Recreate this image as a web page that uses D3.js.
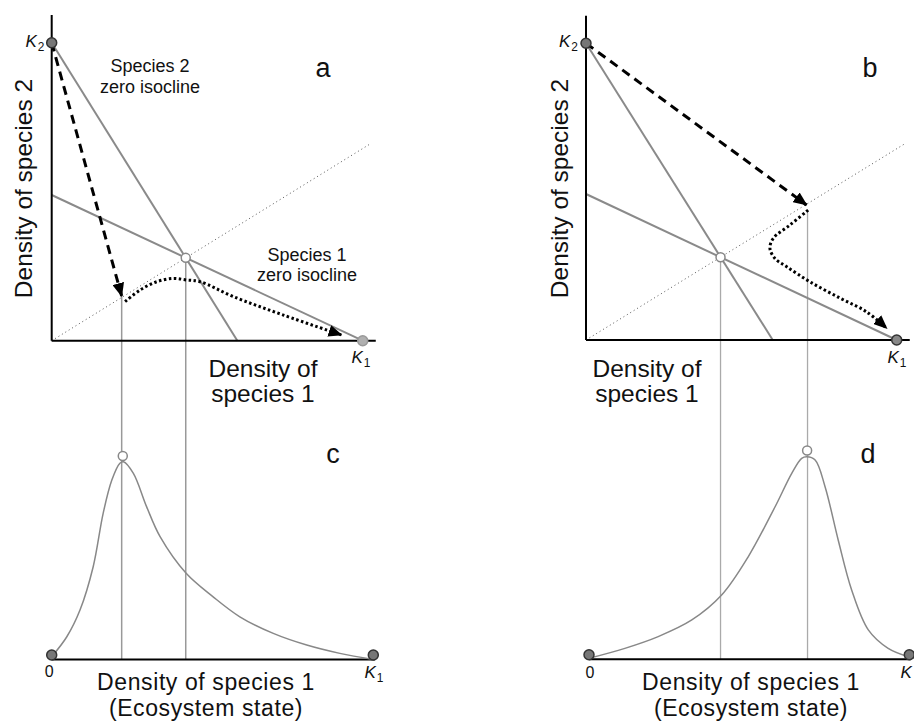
<!DOCTYPE html>
<html><head><meta charset="utf-8">
<script src="https://cdn.jsdelivr.net/npm/d3@7"></script>
<style>
html,body{margin:0;padding:0;background:#fff;}
svg text{font-family:"Liberation Sans",Arial,Helvetica,sans-serif;fill:#111;}
</style></head>
<body>
<svg id="chart" width="914" height="721"></svg>
<script>
// ---------- DATA (density units; K1 = K2 = 1) ----------
// Panel a (phase plane)
const isoSp2A = [[0, 1], [0.597, 0]];
const isoSp1A = [[0, 0.489], [1, 0]];
const eqA = [0.431, 0.278];
const diagA = [[0, 0], [1.025, 0.661]];
const dashedA = [[0, 1], [0.225, 0.15]];
const trajA = [[0.236,0.131],[0.284,0.170],[0.338,0.198],[0.391,0.209],[0.432,0.204],[0.477,0.198],[0.584,0.148],[0.745,0.086],[0.932,0.019]];
const dropsA = [[0.225, 0.15], [0.431, 0.278]];

// Panel b (phase plane)
const isoSp2B = [[0, 1], [0.601, 0]];
const isoSp1B = [[0, 0.492], [1, 0]];
const eqB = [0.433, 0.279];
const diagB = [[0, 0], [1.027, 0.662]];
const dashedB = [[0, 1], [0.710, 0.455]];
const trajB = [[0.715,0.438],[0.657,0.388],[0.603,0.343],[0.592,0.309],[0.608,0.275],[0.646,0.247],[0.721,0.196],[0.818,0.141],[0.903,0.095],[0.968,0.039]];
const dropsB = [[0.433, 0.279], [0.713, 0.438]];

// Panel c (frequency of ecosystem state)
const curveC = [[0,0.014],[0.047,0.115],[0.088,0.25],[0.129,0.469],[0.160,0.739],[0.187,0.907],[0.212,0.992],[0.223,1.0],[0.254,0.941],[0.295,0.773],[0.337,0.621],[0.418,0.436],[0.502,0.317],[0.585,0.216],[0.689,0.132],[0.793,0.073],[0.896,0.031],[1.0,0.0]];
const peakC = [0.221, 1.029];

// Panel d
const curveD = [[0,0.005],[0.112,0.054],[0.216,0.112],[0.321,0.194],[0.414,0.317],[0.497,0.506],[0.581,0.753],[0.633,0.918],[0.664,0.992],[0.680,1.0],[0.706,0.984],[0.737,0.852],[0.778,0.589],[0.820,0.342],[0.872,0.145],[0.934,0.054],[0.997,0.013]];
const peakD = [0.681, 1.031];

// Labels
const panelLetters = ["a", "b", "c", "d"];
const yAxisLabel = "Density of species 2";
const xAxisLabelTop = ["Density of", "species 1"];
const xAxisLabelBottom = ["Density of species 1", "(Ecosystem state)"];
const isoLabel2 = ["Species 2", "zero isocline"];
const isoLabel1 = ["Species 1", "zero isocline"];

// ---------- SCALES ----------
const xA = d3.scaleLinear().domain([0, 1]).range([51.7, 362.7]);
const yA = d3.scaleLinear().domain([0, 1]).range([340.7, 42.7]);
const xB = d3.scaleLinear().domain([0, 1]).range([586, 896.7]);
const yB = d3.scaleLinear().domain([0, 1]).range([340, 43.3]);
const xC = d3.scaleLinear().domain([0, 1]).range([51.7, 373.3]);
const yC = d3.scaleLinear().domain([0, 1]).range([659.5, 461.7]);
const xD = d3.scaleLinear().domain([0, 1]).range([589, 909.3]);
const yD = d3.scaleLinear().domain([0, 1]).range([659.3, 456.7]);

const svg = d3.select("#chart");
const defs = svg.append("defs");
defs.append("marker").attr("id", "arrow")
  .attr("markerUnits", "userSpaceOnUse")
  .attr("viewBox", "0 0 14 12").attr("refX", 13).attr("refY", 6)
  .attr("markerWidth", 14).attr("markerHeight", 12).attr("orient", "auto")
  .append("path").attr("d", "M0,0 L14,6 L0,12 Z").attr("fill", "#000");

const FS = 24.5;

function line(xs, ys, curve) {
  return d3.line().x(d => xs(d[0])).y(d => ys(d[1])).curve(curve || d3.curveLinear);
}

function kLabel(g, x, y, sub, size) {
  const t = g.append("text").attr("x", x).attr("y", y).attr("font-size", size || 17);
  t.append("tspan").attr("font-style", "italic").text("K");
  t.append("tspan").attr("font-size", (size || 17) * 0.7).attr("dy", 4).attr("dx", 1).text(sub);
}

function multiLine(x, y, lines, dy, size, ls) {
  const t = svg.append("text").attr("x", x).attr("y", y).attr("text-anchor", "middle")
    .attr("font-size", size).attr("letter-spacing", ls || 0);
  lines.forEach((s, i) => {
    t.append("tspan").attr("x", x).attr("dy", i === 0 ? 0 : dy).text(s);
  });
  return t;
}

function phasePanel(xs, ys, cfg) {
  const g = svg.append("g");
  g.append("path").attr("d", line(xs, ys)(cfg.diag)).attr("fill", "none")
    .attr("stroke", "#555").attr("stroke-width", 1).attr("stroke-dasharray", "1,3");
  [cfg.iso2, cfg.iso1].forEach(d => {
    g.append("path").attr("d", line(xs, ys)(d)).attr("fill", "none")
      .attr("stroke", "#8a8a8a").attr("stroke-width", 2);
  });
  g.append("line").attr("x1", xs(0)).attr("x2", xs(0)).attr("y1", ys(1.093)).attr("y2", ys(0))
    .attr("stroke", "#000").attr("stroke-width", 2);
  g.append("line").attr("x1", xs(0)).attr("x2", xs(1.042)).attr("y1", ys(0)).attr("y2", ys(0))
    .attr("stroke", "#000").attr("stroke-width", 2);
  g.append("path").attr("d", line(xs, ys)(cfg.dashed)).attr("fill", "none")
    .attr("stroke", "#000").attr("stroke-width", 3).attr("stroke-dasharray", "9,6")
    .attr("marker-end", "url(#arrow)");
  g.append("path").attr("d", line(xs, ys, d3.curveCatmullRom)(cfg.traj)).attr("fill", "none")
    .attr("stroke", "#000").attr("stroke-width", 3).attr("stroke-dasharray", "2.5,2.5")
    .attr("marker-end", "url(#arrow)");
  g.append("circle").attr("cx", xs(0)).attr("cy", ys(1)).attr("r", 5)
    .attr("fill", "#777").attr("stroke", "#333").attr("stroke-width", 1.5);
  g.append("circle").attr("cx", xs(1)).attr("cy", ys(0)).attr("r", 5)
    .attr("fill", cfg.k1Fill).attr("stroke", cfg.k1Stroke).attr("stroke-width", 1.5);
  g.append("circle").attr("cx", xs(cfg.eq[0])).attr("cy", ys(cfg.eq[1])).attr("r", 4.5)
    .attr("fill", "#fff").attr("stroke", "#888").attr("stroke-width", 1.5);
  return g;
}

function densityPanel(xs, ys, curve, peak, k1Fill) {
  const g = svg.append("g");
  g.append("line").attr("x1", xs(0)).attr("x2", xs(1.005)).attr("y1", ys(0)).attr("y2", ys(0))
    .attr("stroke", "#000").attr("stroke-width", 2);
  g.append("path").attr("d", line(xs, ys, d3.curveCatmullRom)(curve)).attr("fill", "none")
    .attr("stroke", "#888").attr("stroke-width", 1.5);
  g.append("circle").attr("cx", xs(0)).attr("cy", ys(0) - 4.5).attr("r", 5)
    .attr("fill", "#777").attr("stroke", "#333").attr("stroke-width", 1.5);
  g.append("circle").attr("cx", xs(1)).attr("cy", ys(0) - 4.5).attr("r", 5)
    .attr("fill", k1Fill).attr("stroke", "#333").attr("stroke-width", 1.5);
  g.append("circle").attr("cx", xs(peak[0])).attr("cy", ys(peak[1])).attr("r", 4.5)
    .attr("fill", "#fff").attr("stroke", "#888").attr("stroke-width", 1.5);
  return g;
}

// vertical drop lines (drawn first so they sit underneath)
const drops = svg.append("g");
dropsA.forEach(d => {
  drops.append("line").attr("x1", xA(d[0])).attr("x2", xA(d[0]))
    .attr("y1", yA(d[1])).attr("y2", yC(0))
    .attr("stroke", "#999").attr("stroke-width", 1.5);
});
dropsB.forEach(d => {
  drops.append("line").attr("x1", xB(d[0])).attr("x2", xB(d[0]))
    .attr("y1", yB(d[1])).attr("y2", yD(0))
    .attr("stroke", "#aaa").attr("stroke-width", 1.3);
});

phasePanel(xA, yA, {iso2: isoSp2A, iso1: isoSp1A, eq: eqA, diag: diagA, dashed: dashedA, traj: trajA, k1Fill: "#b0b0b0", k1Stroke: "#999"});
phasePanel(xB, yB, {iso2: isoSp2B, iso1: isoSp1B, eq: eqB, diag: diagB, dashed: dashedB, traj: trajB, k1Fill: "#888", k1Stroke: "#333"});
densityPanel(xC, yC, curveC, peakC, "#777");
densityPanel(xD, yD, curveD, peakD, "#777");

// ---------- TEXT ----------
[[31.5, 188.5], [568, 188.5]].forEach(p => {
  svg.append("text").attr("transform", `translate(${p[0]},${p[1]}) rotate(-90)`)
    .attr("text-anchor", "middle").attr("font-size", FS).text(yAxisLabel);
});
[263, 647].forEach(cx => multiLine(cx, 376.7, xAxisLabelTop, 25, FS));
[206, 751].forEach(cx => multiLine(cx, 690, xAxisLabelBottom, 26, 23, 0.6));
multiLine(150, 71.7, isoLabel2, 21, 18);
multiLine(307, 260.7, isoLabel1, 20, 18);
[[323, 76.7], [870, 76.7], [333, 463], [868, 463]].forEach((p, i) => {
  svg.append("text").attr("x", p[0]).attr("y", p[1]).attr("text-anchor", "middle")
    .attr("font-size", 27).text(panelLetters[i]);
});
kLabel(svg, 25.5, 46.5, "2");
kLabel(svg, 559, 47.3, "2");
kLabel(svg, 351.5, 363.3, "1");
kLabel(svg, 887.5, 363.3, "1");
kLabel(svg, 364.5, 678.3, "1");
svg.append("text").attr("x", 900.5).attr("y", 678.3).attr("font-size", 17).attr("font-style", "italic").text("K");
svg.append("text").attr("x", 49.3).attr("y", 676.7).attr("text-anchor", "middle").attr("font-size", 16).text("0");
svg.append("text").attr("x", 590).attr("y", 678).attr("text-anchor", "middle").attr("font-size", 16).text("0");
</script>
</body></html>
